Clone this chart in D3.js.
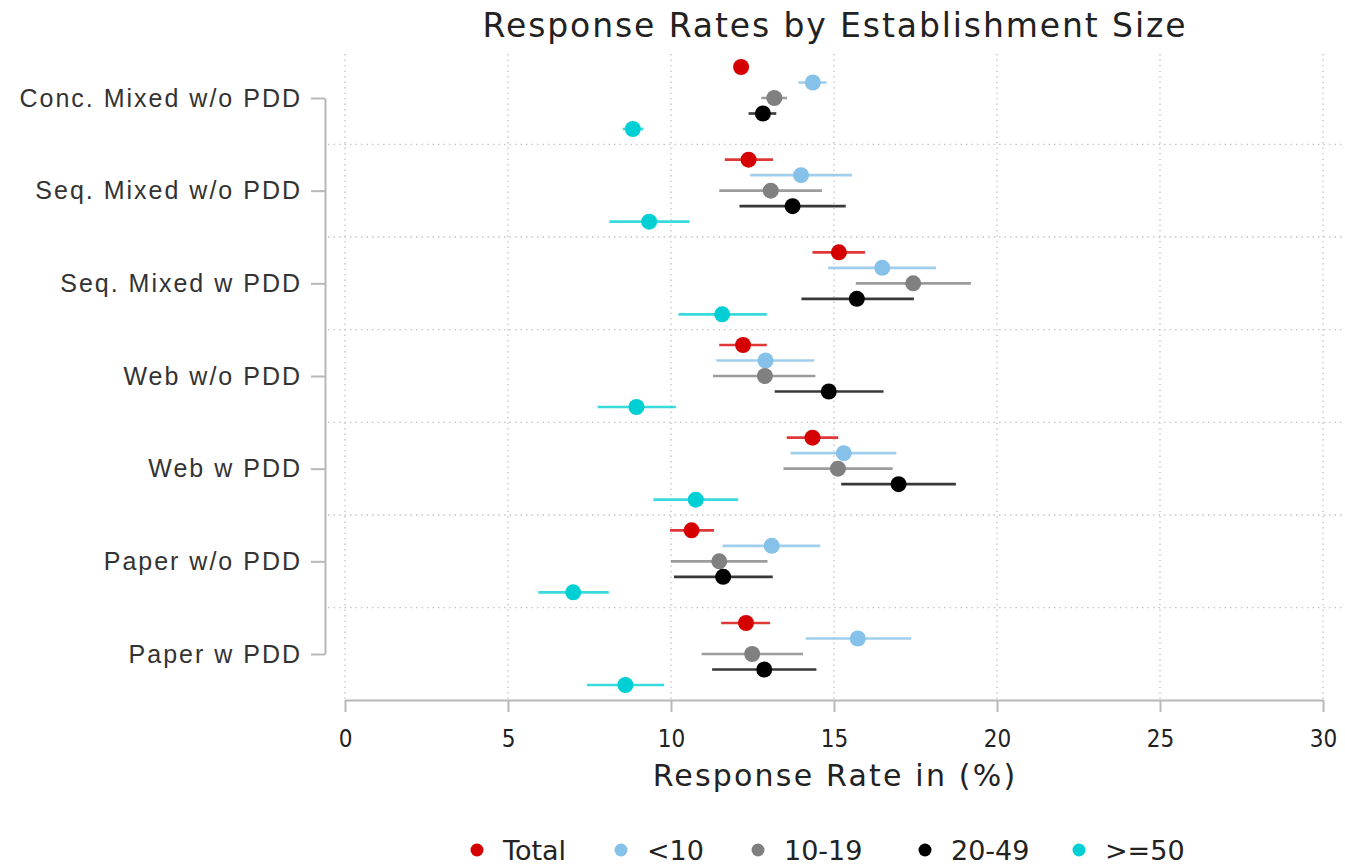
<!DOCTYPE html>
<html lang="en">
<head>
<meta charset="utf-8">
<title>Response Rates by Establishment Size</title>
<style>
  body { margin: 0; background: #fff; }
</style>
</head>
<body>
<script src="https://d3js.org/d3.v7.min.js"></script>
<div id="chart"></div>
<script>

var categories = ["Conc. Mixed w/o PDD", "Seq. Mixed w/o PDD", "Seq. Mixed w PDD",
                  "Web w/o PDD", "Web w PDD", "Paper w/o PDD", "Paper w PDD"];
var groups = ["Total", "<10", "10-19", "20-49", ">=50"];
var colors = ["#d50000", "#85c1e9", "#808080", "#000000", "#00cfd3"];

// point estimates, one array per size group (same order as categories)
var est = {
  "Total": [12.15, 12.38, 15.15, 12.21, 14.34, 10.63, 12.30],
  "<10":   [14.35, 13.99, 16.48, 12.90, 15.30, 13.09, 15.73],
  "10-19": [13.17, 13.06, 17.43, 12.88, 15.12, 11.48, 12.49],
  "20-49": [12.82, 13.73, 15.70, 14.84, 16.98, 11.60, 12.86],
  ">=50":  [8.83, 9.33, 11.57, 8.94, 10.76, 7.00, 8.60]
};
var lower = {
  "Total": [12.00, 11.65, 14.34, 11.48, 13.55, 9.97, 11.54],
  "<10":   [13.91, 12.43, 14.82, 11.39, 13.67, 11.58, 14.13],
  "10-19": [12.77, 11.48, 15.67, 11.29, 13.45, 10.00, 10.94],
  "20-49": [12.38, 12.10, 14.00, 13.18, 15.22, 10.09, 11.26],
  ">=50":  [8.52, 8.11, 10.23, 7.75, 9.46, 5.93, 7.42]
};
var upper = {
  "Total": [12.30, 13.13, 15.95, 12.94, 15.13, 11.32, 13.04],
  "<10":   [14.77, 15.55, 18.13, 14.39, 16.91, 14.58, 17.37],
  "10-19": [13.56, 14.63, 19.20, 14.43, 16.80, 12.96, 14.05],
  "20-49": [13.23, 15.36, 17.45, 16.52, 18.74, 13.12, 14.46],
  ">=50":  [9.15, 10.57, 12.94, 10.15, 12.06, 8.09, 9.79]
};
var xTicks = [0, 5, 10, 15, 20, 25, 30];

var W = 1345, H = 865;
var wide = "'DejaVu Sans', Verdana, sans-serif";
var narrow = "'DejaVu Sans Condensed', 'DejaVu Sans', sans-serif";

var svg = d3.select("#chart").append("svg")
  .attr("width", W).attr("height", H)
  .style("font-family", wide);

var x = d3.scaleLinear().domain([0, 30]).range([345, 1323]);
var y = d3.scalePoint().domain(categories).range([98, 654]);
var off = d3.scalePoint().domain(groups).range([-31, 31]);
var step = y.step();

// grid
svg.append("g").selectAll("line")
  .data(xTicks).enter().append("line")
    .attr("x1", function(d){ return x(d); })
    .attr("x2", function(d){ return x(d); })
    .attr("y1", 54).attr("y2", 700)
    .attr("stroke", "#c4c4c4").attr("stroke-width", 1.3)
    .attr("stroke-dasharray", "1.5,4");

svg.append("g").selectAll("line")
  .data(categories.slice(1)).enter().append("line")
    .attr("x1", 328).attr("x2", W)
    .attr("y1", function(d){ return y(d) - step / 2; })
    .attr("y2", function(d){ return y(d) - step / 2; })
    .attr("stroke", "#c4c4c4").attr("stroke-width", 1.3)
    .attr("stroke-dasharray", "1.5,4");

// x axis
var xAxis = svg.append("g")
  .attr("transform", "translate(0,700)")
  .call(d3.axisBottom(x).tickValues(xTicks).tickSize(12).tickPadding(18).tickSizeOuter(0));
xAxis.select(".domain").attr("stroke", "#b8b8b8").attr("stroke-width", 2);
xAxis.selectAll(".tick line").attr("stroke", "#b8b8b8").attr("stroke-width", 2);
xAxis.selectAll(".tick text")
  .attr("font-size", "24px").attr("fill", "#222")
  .style("font-family", narrow);

// y axis
var yAxis = svg.append("g")
  .attr("transform", "translate(325,0)")
  .call(d3.axisLeft(y).tickSize(14).tickPadding(9).tickSizeOuter(0));
yAxis.select(".domain").attr("stroke", "#b8b8b8").attr("stroke-width", 2);
yAxis.selectAll(".tick line").attr("stroke", "#b8b8b8").attr("stroke-width", 2);
yAxis.selectAll(".tick text")
  .attr("font-size", "25px").attr("fill", "#333")
  .attr("letter-spacing", "2px");

// marks
groups.forEach(function(g, gi) {
  var rows = categories.map(function(c, i) {
    return { cat: c, v: est[g][i], lo: lower[g][i], hi: upper[g][i] };
  });
  var layer = svg.append("g");
  layer.selectAll("line.err").data(rows).enter().append("line")
    .attr("class", "err")
    .attr("x1", function(d){ return x(d.lo); })
    .attr("x2", function(d){ return x(d.hi); })
    .attr("y1", function(d){ return y(d.cat) + off(g); })
    .attr("y2", function(d){ return y(d.cat) + off(g); })
    .attr("stroke", colors[gi]).attr("stroke-width", 2.6)
    .attr("stroke-opacity", 0.78);
  layer.selectAll("circle").data(rows).enter().append("circle")
    .attr("cx", function(d){ return x(d.v); })
    .attr("cy", function(d){ return y(d.cat) + off(g); })
    .attr("r", 8)
    .attr("fill", colors[gi]);
});

// title
svg.append("text")
  .attr("x", 835).attr("y", 37)
  .attr("text-anchor", "middle")
  .attr("font-size", "33px").attr("fill", "#222")
  .attr("letter-spacing", "1.9px")
  .text("Response Rates by Establishment Size");

svg.append("text")
  .attr("x", 835).attr("y", 786)
  .attr("text-anchor", "middle")
  .attr("font-size", "30px").attr("fill", "#222")
  .attr("letter-spacing", "2.2px")
  .text("Response Rate in (%)");

// legend
var legX = [477, 621, 758, 925, 1079];
var leg = svg.append("g").selectAll("g")
  .data(groups).enter().append("g")
    .attr("transform", function(d, i){ return "translate(" + legX[i] + ",850)"; });
leg.append("circle").attr("r", 6.5).attr("fill", function(d, i){ return colors[i]; });
leg.append("text")
  .attr("x", 26).attr("dy", "0.36em")
  .attr("font-size", "27px").attr("fill", "#222")
  .text(function(d){ return d; });

</script>
</body>
</html>
